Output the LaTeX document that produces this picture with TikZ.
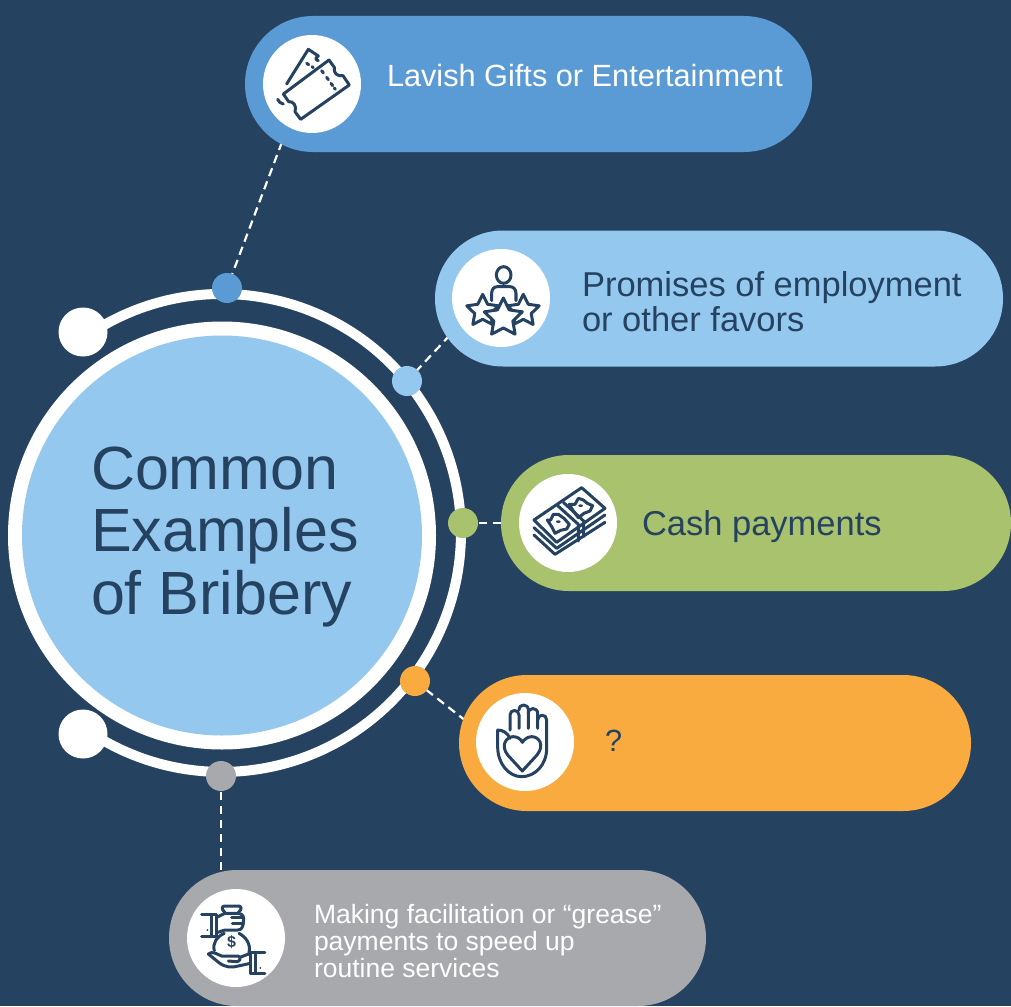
\documentclass[tikz,border=0pt]{standalone}
\usepackage{fontspec}
\setmainfont{Liberation Sans}
\usetikzlibrary{shapes.misc,calc}
\definecolor{bgnavy}{HTML}{254361}
\definecolor{pillblue}{HTML}{5B9BD5}
\definecolor{pilllight}{HTML}{95C8EF}
\definecolor{pillgreen}{HTML}{A9C26E}
\definecolor{pillorange}{HTML}{F9AB3F}
\definecolor{pillgray}{HTML}{A7A9AC}
\tikzset{
  pill/.style={rounded rectangle,minimum height=136pt,inner sep=0pt,outer sep=0pt,anchor=west},
  iconbg/.style={circle,fill=white,minimum size=98pt,inner sep=0pt,outer sep=0pt},
  dot/.style={circle,minimum size=30pt,inner sep=0pt,outer sep=0pt},
  bigdot/.style={circle,fill=white,minimum size=49pt,inner sep=0pt,outer sep=0pt},
  dashline/.style={draw=white,line width=2.2pt,dash pattern=on 8.5pt off 5.5pt},
  ic/.style={draw=bgnavy,line width=3pt,line cap=round,line join=round},
  lab/.style={anchor=west,align=left,inner sep=0pt,outer sep=0pt},
}
\newcommand{\iconstar}[3]{\draw[ic,fill=white]
 ($(#1,#2)+(-90:#3)$) -- ($(#1,#2)+(-54:#3*.5)$) -- ($(#1,#2)+(-18:#3)$) -- ($(#1,#2)+(18:#3*.5)$) -- ($(#1,#2)+(54:#3)$) -- ($(#1,#2)+(90:#3*.5)$) -- ($(#1,#2)+(126:#3)$) -- ($(#1,#2)+(162:#3*.5)$) -- ($(#1,#2)+(198:#3)$) -- ($(#1,#2)+(234:#3*.5)$) -- cycle;}
\begin{document}
\begin{tikzpicture}[x=1pt,y=-1pt]
\useasboundingbox (0,0) rectangle (1011,1006);
\fill[bgnavy] (0,0) rectangle (1011,1006);
% named ends of connectors
\coordinate (e1) at (282,142);
\coordinate (e2) at (450,335);
\coordinate (e3) at (501,523);
\coordinate (e4) at (466,721);
\coordinate (e5) at (221,870);
% outer ring
\draw[white,line width=10pt] (86.6,336) arc[start angle=-124.5,end angle=124.5,radius=239] ;
\node[circle,fill=white,minimum size=428pt,inner sep=0pt] (outer) at (222,535.5) {};
\node[circle,fill=pilllight,minimum size=400pt,inner sep=0pt] (inner) at (222,535.5) {};
\node[bigdot] (b1) at (83,332) {};
\node[bigdot] (b2) at (83,734) {};
% small dots
\node[dot,fill=pillblue] (d1) at (227,288) {};
\node[dot,fill=pilllight] (d2) at (407,381) {};
\node[dot,fill=pillgreen] (d3) at (463,523) {};
\node[dot,fill=pillorange] (d4) at (415,681) {};
\node[dot,fill=pillgray] (d5) at (221,776) {};
% connectors
\draw[dashline] (e1) -- (d1);
\draw[dashline] (e2) -- (d2);
\draw[dashline] (e3) -- (d3);
\draw[dashline] (e4) -- (d4);
\draw[dashline] (e5) -- (d5);
% pills
\node[pill,fill=pillblue,minimum width=567pt] (p1) at (245,84) {};
\node[pill,fill=pilllight,minimum width=568pt] (p2) at (435,298.5) {};
\node[pill,fill=pillgreen,minimum width=510pt] (p3) at (501,523) {};
\node[pill,fill=pillorange,minimum width=512pt] (p4) at (459,743) {};
\node[pill,fill=pillgray,minimum width=537pt] (p5) at (169,938) {};
% icon discs
\node[iconbg] (c1) at (312,84) {};
\node[iconbg] (c2) at (501,298) {};
\node[iconbg] (c3) at (568,523) {};
\node[iconbg] (c4) at (525,742) {};
\node[iconbg] (c5) at (236,938) {};
% texts
\node[lab,text=bgnavy,font=\fontsize{61}{62.5}\selectfont] (title) at (91,537) {Common\\Examples\\of Bribery};
\node[lab,text=white,font=\fontsize{30.7}{34}\selectfont] (t1) at (387,76) {Lavish Gifts or Entertainment};
\node[lab,text=bgnavy,font=\fontsize{34.5}{35}\selectfont] (t2) at (582,302) {Promises of employment\\or other favors};
\node[lab,text=bgnavy,font=\fontsize{34.5}{35}\selectfont] (t3) at (642,527) {Cash payments};
\node[lab,text=bgnavy,font=\fontsize{30.7}{34}\selectfont] (t4) at (605,741) {?};
\node[lab,text=white,font=\fontsize{26.5}{27}\selectfont] (t5) at (314,941) {Making facilitation or “grease”\\payments to speed up\\routine services};
% ticket icon
\begin{scope}[shift={(250,20)},x=.3333pt,y=-.3333pt]
\draw[ic] (100,222) -- (237,120) -- (253,142) .. controls (250,160) and (262,170) .. (279,167) -- (298,195) -- (152,298) -- (135,275) .. controls (141,258) and (130,243) .. (116,245) -- cycle;
\draw[ic] (215,152) -- (220,159) (230,172) -- (235,179) (243,190) -- (248,197) (253,204) -- (256,208);
\draw[ic] (110,192) -- (175,88) -- (205,108) .. controls (195,115) and (195,118) .. (205,122);
\draw[ic] (170,130) -- (176,134) (186,140) -- (190,143);
\draw[ic] (83,238) .. controls (85,245) and (92,250) .. (100,252);
\end{scope}
% stars icon
\begin{scope}[shift={(440,240)},x=.3333pt,y=-.3333pt]
\draw[ic] (191,105) ellipse[x radius=22,y radius=25];
\draw[ic] (155,182) -- (155,160) .. controls (155,148) and (162,140) .. (172,140) -- (210,140) .. controls (220,140) and (228,148) .. (228,160) -- (228,182);
\iconstar{128}{213}{50}
\iconstar{250}{213}{50}
\iconstar{190}{234}{60}
\end{scope}
% cash icon
\begin{scope}[shift={(510,465)},x=.3333pt,y=-.3333pt]
\draw[ic] (72,165) -- (215,68) -- (285,130) -- (140,232) -- cycle;
\draw[ic] (72,188) -- (140,250) -- (285,150);
\draw[ic] (72,210) -- (135,268) -- (285,172);
\draw[ic] (143,122) -- (205,178) -- (205,228);
\draw[ic] (160,112) -- (221,168) -- (221,215);
\draw[ic] (112,165) -- (122,165) -- (130,148) -- (145,148) -- (162,160) -- (178,178) -- (170,192) -- (152,196) -- (135,205) -- (125,185) -- cycle;
\draw[ic] (178,118) -- (195,118) -- (205,100) -- (220,105) -- (232,115) -- (248,122) -- (240,138) -- (222,145) -- (205,158) -- (190,138) -- cycle;
\fill[bgnavy] (145,170) ellipse[x radius=7,y radius=4];
\fill[bgnavy] (212,122) ellipse[x radius=7,y radius=4];
\end{scope}
% hand icon
\begin{scope}[shift={(465,685)},x=.3333pt,y=-.3333pt]
\draw[ic] (135,135) -- (135,90) .. controls (135,72) and (162,72) .. (162,90) -- (162,130);
\draw[ic] (162,75) .. controls (162,55) and (190,55) .. (190,75) -- (190,130);
\draw[ic] (190,85) .. controls (190,66) and (218,66) .. (218,85) -- (218,130);
\draw[ic] (218,105) .. controls (218,86) and (245,86) .. (245,105) -- (245,190) .. controls (245,240) and (210,275) .. (170,275) .. controls (130,275) and (98,235) .. (98,185) -- (98,135) .. controls (115,135) and (128,145) .. (135,160);
\draw[ic] (172,258) -- (128,210) .. controls (105,180) and (125,155) .. (145,155) .. controls (158,155) and (168,163) .. (172,172) .. controls (178,163) and (188,155) .. (200,155) .. controls (222,155) and (240,180) .. (216,210) -- cycle;
\end{scope}
% money icon
\begin{scope}[shift={(175,880)},x=.3333pt,y=-.3333pt]
\draw[ic] (80,102) -- (125,102) -- (125,170) -- (80,170);
\draw[ic] (110,104) -- (110,168);
\fill[bgnavy] (97,150) circle[radius=3];
\draw[ic] (125,112) -- (150,100) -- (190,100) .. controls (205,102) and (208,112) .. (205,125) .. controls (205,140) and (200,150) .. (188,150) -- (150,150) -- (125,158);
\draw[ic] (170,112) -- (205,112) (172,130) -- (205,130);
\draw[ic] (150,98) .. controls (136,85) and (142,78) .. (150,78) -- (190,78) .. controls (198,78) and (204,85) .. (190,98);
\draw[ic] (148,160) .. controls (125,170) and (112,190) .. (118,212);
\draw[ic] (192,160) .. controls (215,172) and (228,195) .. (222,218);
\node[text=bgnavy,font=\bfseries\fontsize{16}{16}\selectfont,inner sep=0pt] (dollar) at (170,187) {\$};
\draw[ic] (100,222) .. controls (112,212) and (125,222) .. (140,228) -- (190,228) .. controls (200,232) and (195,245) .. (185,245) -- (160,243);
\draw[ic] (100,222) -- (132,248) .. controls (150,262) and (170,264) .. (190,258) -- (226,250);
\draw[ic] (195,232) -- (226,220);
\draw[ic] (226,218) -- (270,218) (226,280) -- (270,280) (226,218) -- (226,280) (242,220) -- (242,278);
\fill[bgnavy] (256,264) circle[radius=3];
\end{scope}
\end{tikzpicture}
\end{document}
